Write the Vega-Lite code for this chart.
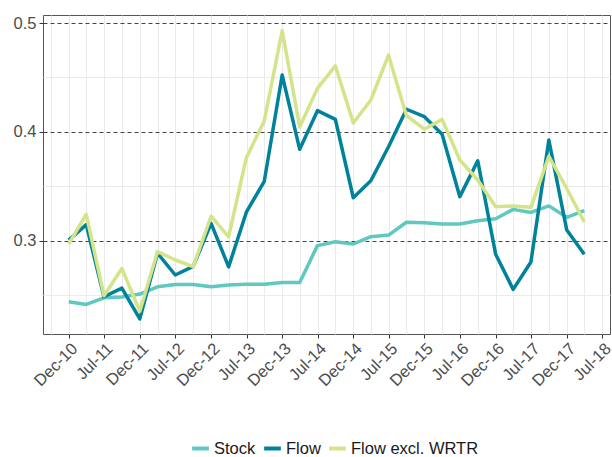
{
  "$schema": "https://vega.github.io/schema/vega-lite/v6.json",
  "width": 567,
  "height": 319,
  "autosize": {"type": "none"},
  "padding": {"left": 43, "top": 15, "right": 2, "bottom": 123},
  "background": "white",
  "config": {
    "font": "Liberation Sans",
    "view": {"stroke": "#555555", "strokeWidth": 1}
  },
  "data": {
    "values": [
      {"date": "2010-12-31", "series": "Stock", "value": 0.244},
      {"date": "2011-03-31", "series": "Stock", "value": 0.2415},
      {"date": "2011-06-30", "series": "Stock", "value": 0.2475},
      {"date": "2011-09-30", "series": "Stock", "value": 0.2483},
      {"date": "2011-12-31", "series": "Stock", "value": 0.251},
      {"date": "2012-03-31", "series": "Stock", "value": 0.2577},
      {"date": "2012-06-30", "series": "Stock", "value": 0.2597},
      {"date": "2012-09-30", "series": "Stock", "value": 0.2597},
      {"date": "2012-12-31", "series": "Stock", "value": 0.2577},
      {"date": "2013-03-31", "series": "Stock", "value": 0.2593},
      {"date": "2013-06-30", "series": "Stock", "value": 0.26},
      {"date": "2013-09-30", "series": "Stock", "value": 0.26},
      {"date": "2013-12-31", "series": "Stock", "value": 0.2617},
      {"date": "2014-03-31", "series": "Stock", "value": 0.2617},
      {"date": "2014-06-30", "series": "Stock", "value": 0.2955},
      {"date": "2014-09-30", "series": "Stock", "value": 0.299},
      {"date": "2014-12-31", "series": "Stock", "value": 0.297},
      {"date": "2015-03-31", "series": "Stock", "value": 0.3037},
      {"date": "2015-06-30", "series": "Stock", "value": 0.3052},
      {"date": "2015-09-30", "series": "Stock", "value": 0.317},
      {"date": "2015-12-31", "series": "Stock", "value": 0.3165},
      {"date": "2016-03-31", "series": "Stock", "value": 0.3153},
      {"date": "2016-06-30", "series": "Stock", "value": 0.3153},
      {"date": "2016-09-30", "series": "Stock", "value": 0.3184},
      {"date": "2016-12-31", "series": "Stock", "value": 0.3202},
      {"date": "2017-03-31", "series": "Stock", "value": 0.3288},
      {"date": "2017-06-30", "series": "Stock", "value": 0.326},
      {"date": "2017-09-30", "series": "Stock", "value": 0.332},
      {"date": "2017-12-31", "series": "Stock", "value": 0.3215},
      {"date": "2018-03-31", "series": "Stock", "value": 0.3276},
      {"date": "2010-12-31", "series": "Flow", "value": 0.3006},
      {"date": "2011-03-31", "series": "Flow", "value": 0.3148},
      {"date": "2011-06-30", "series": "Flow", "value": 0.2485},
      {"date": "2011-09-30", "series": "Flow", "value": 0.2565},
      {"date": "2011-12-31", "series": "Flow", "value": 0.2282},
      {"date": "2012-03-31", "series": "Flow", "value": 0.2885},
      {"date": "2012-06-30", "series": "Flow", "value": 0.2685},
      {"date": "2012-09-30", "series": "Flow", "value": 0.2764},
      {"date": "2012-12-31", "series": "Flow", "value": 0.316},
      {"date": "2013-03-31", "series": "Flow", "value": 0.276},
      {"date": "2013-06-30", "series": "Flow", "value": 0.3262},
      {"date": "2013-09-30", "series": "Flow", "value": 0.3546},
      {"date": "2013-12-31", "series": "Flow", "value": 0.4522},
      {"date": "2014-03-31", "series": "Flow", "value": 0.384},
      {"date": "2014-06-30", "series": "Flow", "value": 0.4195},
      {"date": "2014-09-30", "series": "Flow", "value": 0.4115},
      {"date": "2014-12-31", "series": "Flow", "value": 0.3395},
      {"date": "2015-03-31", "series": "Flow", "value": 0.3551},
      {"date": "2015-06-30", "series": "Flow", "value": 0.3864},
      {"date": "2015-09-30", "series": "Flow", "value": 0.4208},
      {"date": "2015-12-31", "series": "Flow", "value": 0.414},
      {"date": "2016-03-31", "series": "Flow", "value": 0.3978},
      {"date": "2016-06-30", "series": "Flow", "value": 0.3405},
      {"date": "2016-09-30", "series": "Flow", "value": 0.3735},
      {"date": "2016-12-31", "series": "Flow", "value": 0.2875},
      {"date": "2017-03-31", "series": "Flow", "value": 0.2553},
      {"date": "2017-06-30", "series": "Flow", "value": 0.2805},
      {"date": "2017-09-30", "series": "Flow", "value": 0.3925},
      {"date": "2017-12-31", "series": "Flow", "value": 0.3098},
      {"date": "2018-03-31", "series": "Flow", "value": 0.2875},
      {"date": "2010-12-31", "series": "Flow excl. WRTR", "value": 0.297},
      {"date": "2011-03-31", "series": "Flow excl. WRTR", "value": 0.3242},
      {"date": "2011-06-30", "series": "Flow excl. WRTR", "value": 0.2495},
      {"date": "2011-09-30", "series": "Flow excl. WRTR", "value": 0.2745},
      {"date": "2011-12-31", "series": "Flow excl. WRTR", "value": 0.2352},
      {"date": "2012-03-31", "series": "Flow excl. WRTR", "value": 0.29},
      {"date": "2012-06-30", "series": "Flow excl. WRTR", "value": 0.2823},
      {"date": "2012-09-30", "series": "Flow excl. WRTR", "value": 0.2762},
      {"date": "2012-12-31", "series": "Flow excl. WRTR", "value": 0.3225},
      {"date": "2013-03-31", "series": "Flow excl. WRTR", "value": 0.3035},
      {"date": "2013-06-30", "series": "Flow excl. WRTR", "value": 0.3763},
      {"date": "2013-09-30", "series": "Flow excl. WRTR", "value": 0.41},
      {"date": "2013-12-31", "series": "Flow excl. WRTR", "value": 0.493},
      {"date": "2014-03-31", "series": "Flow excl. WRTR", "value": 0.4045},
      {"date": "2014-06-30", "series": "Flow excl. WRTR", "value": 0.44},
      {"date": "2014-09-30", "series": "Flow excl. WRTR", "value": 0.4607},
      {"date": "2014-12-31", "series": "Flow excl. WRTR", "value": 0.4082},
      {"date": "2015-03-31", "series": "Flow excl. WRTR", "value": 0.4293},
      {"date": "2015-06-30", "series": "Flow excl. WRTR", "value": 0.4705},
      {"date": "2015-09-30", "series": "Flow excl. WRTR", "value": 0.4149},
      {"date": "2015-12-31", "series": "Flow excl. WRTR", "value": 0.4025},
      {"date": "2016-03-31", "series": "Flow excl. WRTR", "value": 0.4115},
      {"date": "2016-06-30", "series": "Flow excl. WRTR", "value": 0.3742},
      {"date": "2016-09-30", "series": "Flow excl. WRTR", "value": 0.3558},
      {"date": "2016-12-31", "series": "Flow excl. WRTR", "value": 0.3313},
      {"date": "2017-03-31", "series": "Flow excl. WRTR", "value": 0.332},
      {"date": "2017-06-30", "series": "Flow excl. WRTR", "value": 0.3307},
      {"date": "2017-09-30", "series": "Flow excl. WRTR", "value": 0.3775},
      {"date": "2017-12-31", "series": "Flow excl. WRTR", "value": 0.348},
      {"date": "2018-03-31", "series": "Flow excl. WRTR", "value": 0.3172}
    ]
  },
  "mark": {"type": "line", "strokeWidth": 3.5, "strokeJoin": "round"},
  "encoding": {
    "x": {
      "field": "date",
      "type": "temporal",
      "scale": {
        "type": "utc",
        "domain": [
          {"year": 2010, "month": 8, "date": 21, "utc": true},
          {"year": 2018, "month": 8, "date": 10, "utc": true}
        ]
      },
      "axis": {
        "title": null,
        "values": [
          {"year": 2010, "month": 9, "date": 30, "utc": true},
          {"year": 2010, "month": 12, "date": 31, "utc": true},
          {"year": 2011, "month": 3, "date": 31, "utc": true},
          {"year": 2011, "month": 7, "date": 1, "utc": true},
          {"year": 2011, "month": 9, "date": 30, "utc": true},
          {"year": 2011, "month": 12, "date": 31, "utc": true},
          {"year": 2012, "month": 3, "date": 31, "utc": true},
          {"year": 2012, "month": 7, "date": 1, "utc": true},
          {"year": 2012, "month": 9, "date": 30, "utc": true},
          {"year": 2012, "month": 12, "date": 31, "utc": true},
          {"year": 2013, "month": 3, "date": 31, "utc": true},
          {"year": 2013, "month": 7, "date": 1, "utc": true},
          {"year": 2013, "month": 9, "date": 30, "utc": true},
          {"year": 2013, "month": 12, "date": 31, "utc": true},
          {"year": 2014, "month": 3, "date": 31, "utc": true},
          {"year": 2014, "month": 7, "date": 1, "utc": true},
          {"year": 2014, "month": 9, "date": 30, "utc": true},
          {"year": 2014, "month": 12, "date": 31, "utc": true},
          {"year": 2015, "month": 3, "date": 31, "utc": true},
          {"year": 2015, "month": 7, "date": 1, "utc": true},
          {"year": 2015, "month": 9, "date": 30, "utc": true},
          {"year": 2015, "month": 12, "date": 31, "utc": true},
          {"year": 2016, "month": 3, "date": 31, "utc": true},
          {"year": 2016, "month": 7, "date": 1, "utc": true},
          {"year": 2016, "month": 9, "date": 30, "utc": true},
          {"year": 2016, "month": 12, "date": 31, "utc": true},
          {"year": 2017, "month": 3, "date": 31, "utc": true},
          {"year": 2017, "month": 7, "date": 1, "utc": true},
          {"year": 2017, "month": 9, "date": 30, "utc": true},
          {"year": 2017, "month": 12, "date": 31, "utc": true},
          {"year": 2018, "month": 3, "date": 31, "utc": true},
          {"year": 2018, "month": 7, "date": 1, "utc": true}
        ],
        "labelExpr": "(utcmonth(datum.value) == 11 || utcmonth(datum.value) == 6) ? utcFormat(datum.value, '%b-%y') : ''",
        "labelAngle": -45,
        "labelAlign": "right",
        "labelBaseline": "top",
        "labelFontSize": 16.5,
        "labelColor": "#4d4d4d",
        "labelPadding": 2,
        "labelOverlap": false,
        "labelFlush": false,
        "labelBound": false,
        "labelLimit": 0,
        "domain": false,
        "tickSize": 4,
        "tickWidth": 1,
        "tickColor": {
          "condition": {"test": "utcmonth(datum.value) == 11 || utcmonth(datum.value) == 6", "value": "#333333"},
          "value": "rgba(0,0,0,0)"
        },
        "grid": true,
        "gridColor": "#ebebeb",
        "gridWidth": 1
      }
    },
    "y": {
      "field": "value",
      "type": "quantitative",
      "scale": {"domain": [0.2143, 0.5074], "nice": false, "zero": false},
      "axis": {
        "title": null,
        "values": [0.25, 0.3, 0.35, 0.4, 0.45, 0.5],
        "labelExpr": "abs(datum.value * 10 - round(datum.value * 10)) < 0.01 ? format(datum.value, '.1f') : ''",
        "labelFontSize": 16.5,
        "labelColor": "#4d4d4d",
        "labelPadding": 3,
        "labelLimit": 0,
        "domain": false,
        "tickSize": 4,
        "tickWidth": 1,
        "tickColor": {
          "condition": {"test": "abs(datum.value * 10 - round(datum.value * 10)) < 0.01", "value": "#333333"},
          "value": "rgba(0,0,0,0)"
        },
        "grid": true,
        "gridColor": {
          "condition": {"test": "abs(datum.value * 10 - round(datum.value * 10)) < 0.01", "value": "#444444"},
          "value": "#ebebeb"
        },
        "gridDash": {
          "condition": {"test": "abs(datum.value * 10 - round(datum.value * 10)) < 0.01", "value": [4, 3]},
          "value": []
        },
        "gridWidth": 1
      }
    },
    "color": {
      "field": "series",
      "type": "nominal",
      "sort": ["Stock", "Flow", "Flow excl. WRTR"],
      "scale": {
        "domain": ["Stock", "Flow", "Flow excl. WRTR"],
        "range": ["#5fc8c0", "#00829b", "#d4e48a"]
      },
      "legend": {
        "title": null,
        "orient": "none",
        "legendX": 147,
        "legendY": 423,
        "direction": "horizontal",
        "symbolType": "stroke",
        "symbolStrokeWidth": 4,
        "symbolSize": 280,
        "labelFontSize": 16.5,
        "labelColor": "#1a1a1a",
        "labelOffset": 3,
        "columnPadding": 0,
        "padding": 0
      }
    }
  }
}
